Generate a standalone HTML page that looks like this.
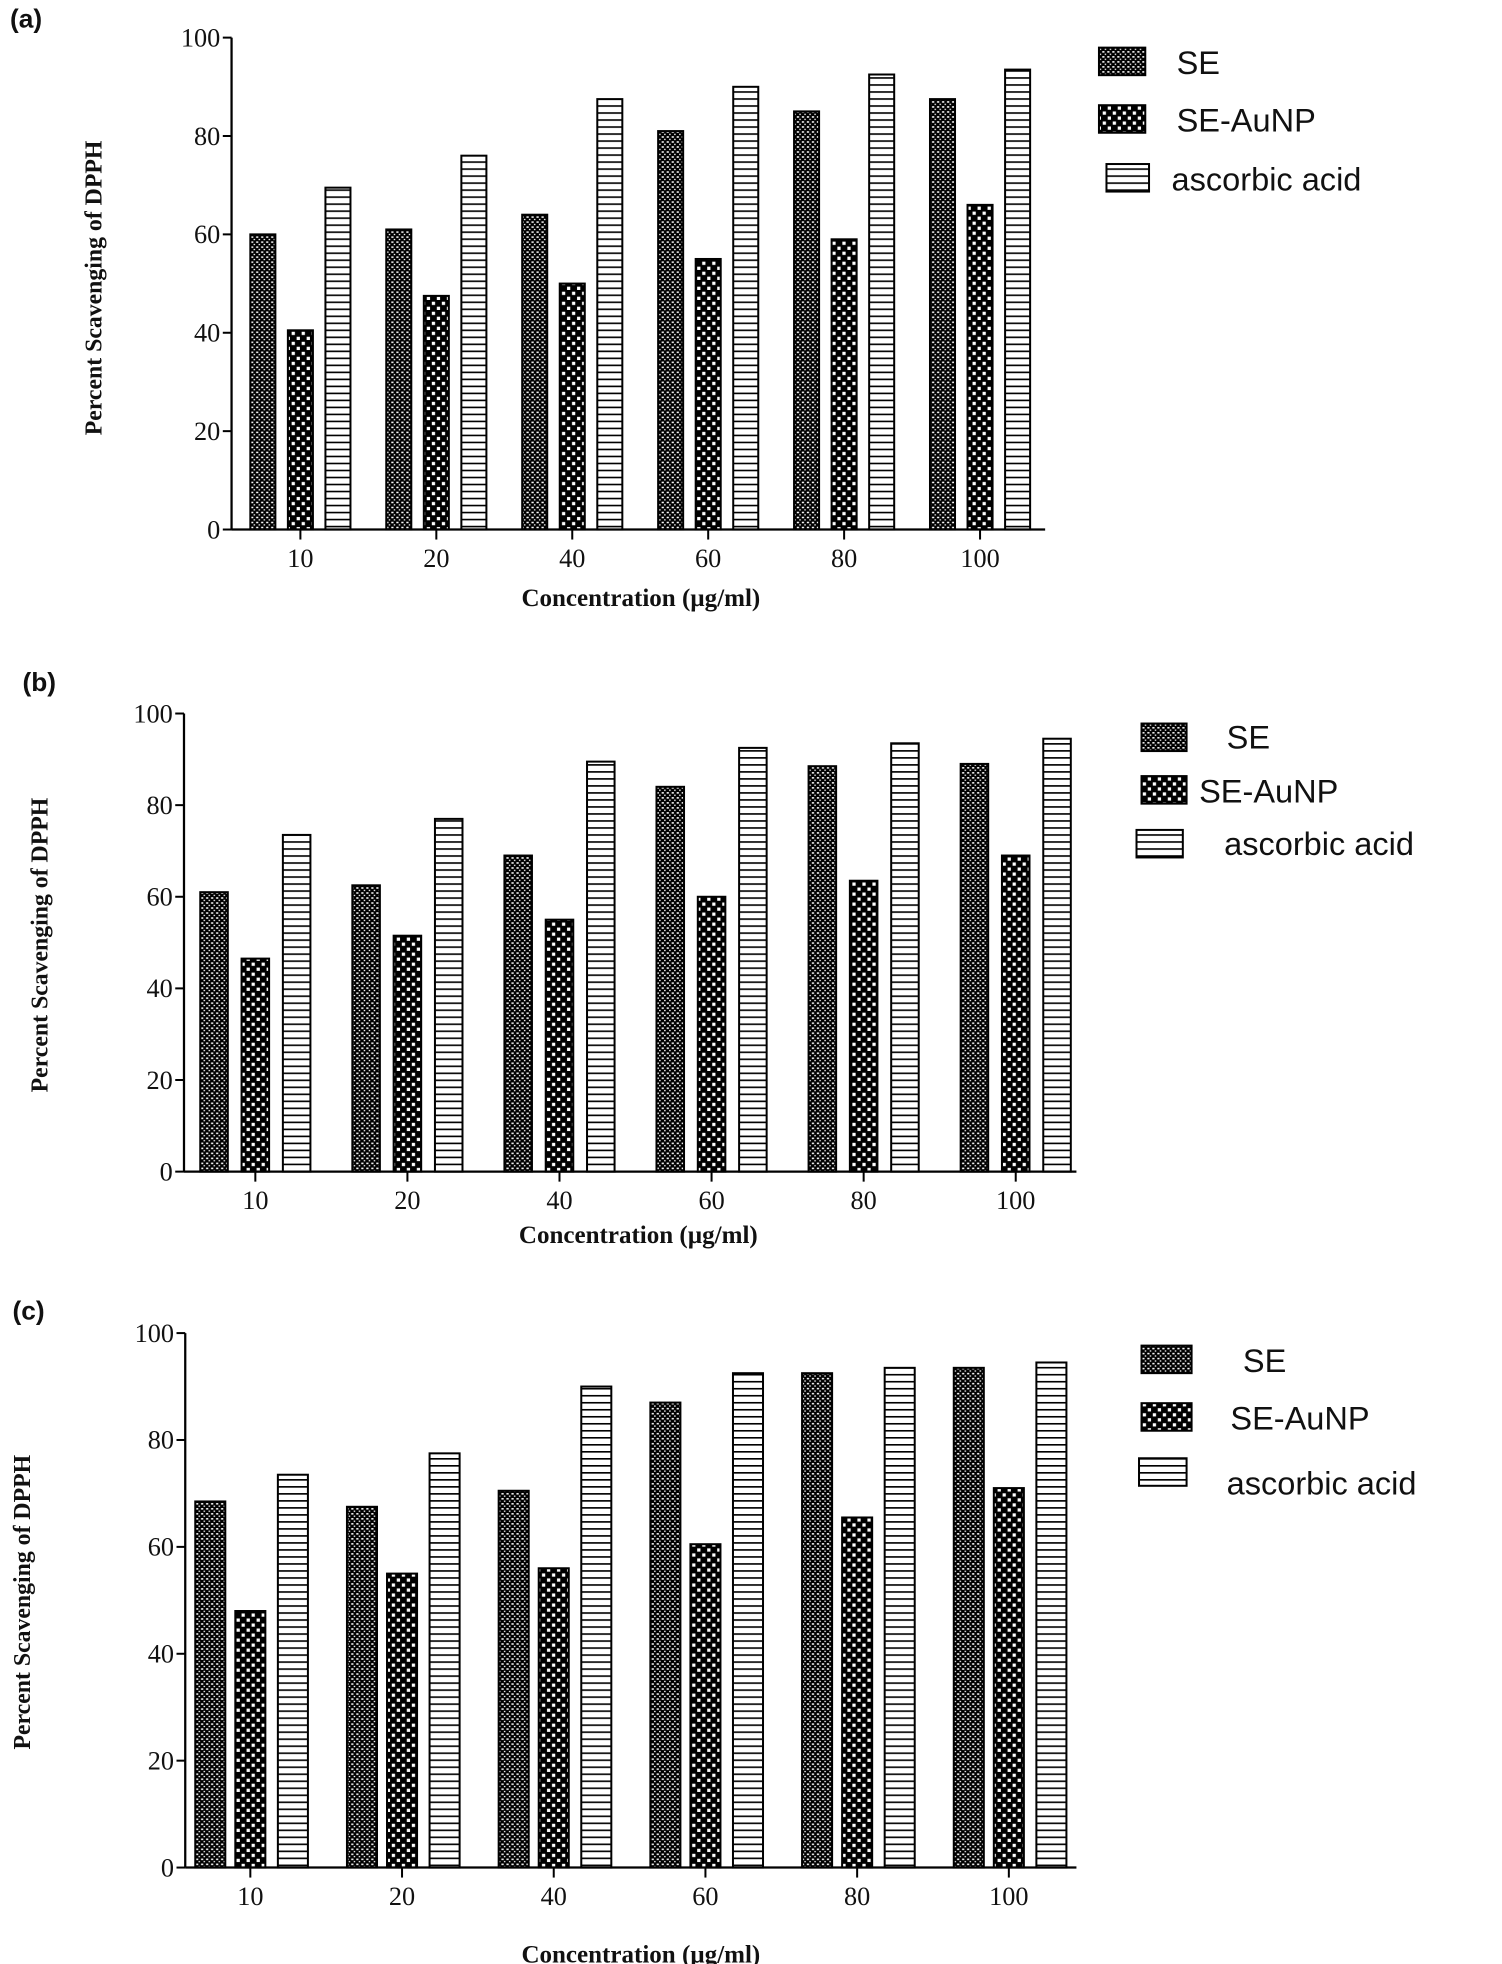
<!DOCTYPE html>
<html><head><meta charset="utf-8"><style>
html,body{margin:0;padding:0;background:#fff}
svg{display:block}
.t{font-family:"Liberation Serif",serif;font-size:21px;fill:#111}
.b{font-family:"Liberation Serif",serif;font-weight:bold;fill:#111}
.s{font-family:"Liberation Sans",sans-serif;fill:#111}
</style></head><body>
<svg id="s" width="1502" height="1964" viewBox="0 0 1200 1569" xmlns="http://www.w3.org/2000/svg">
<defs>
<pattern id="pSE" width="4" height="4" patternUnits="userSpaceOnUse"><rect width="4" height="4" fill="#000"/><rect x="0.6" y="0.8" width="1.8" height="1.2" fill="#fff"/><rect x="2.6" y="2.8" width="1.2" height="1" fill="#fff"/></pattern>
<pattern id="pAu" width="8" height="8" patternUnits="userSpaceOnUse"><rect width="8" height="8" fill="#000"/><rect x="1" y="1" width="2.6" height="2.6" fill="#fff"/><rect x="5" y="5" width="2.6" height="2.6" fill="#fff"/></pattern>
<pattern id="pAA" width="6" height="5.6" patternUnits="userSpaceOnUse"><rect width="6" height="5.6" fill="#fff"/><rect y="0" width="6" height="1.3" fill="#000"/></pattern>
</defs>
<g id="g"></g>
</svg>
<script>
var P=[
{lab:"(a)",lx:8,ly:22,ax:185,y100:30,y0:423,xe:835,g0:200,gs:108.6,w:20,off:[0,30,60],
 v:[[60,61,64,81,85,87.5],[40.5,47.5,50,55,59,66],[69.5,76,87.5,90,92.5,93.5]],
 yl:75,ylc:230,xlc:512,xly:484,
 leg:[[878,38,37,22,940,59,"SE"],[878,84,37,22,940,105,"SE-AuNP"],[884,131,34,22,936,152,"ascorbic acid"]]},
{lab:"(b)",lx:18,ly:552,ax:147,y100:570,y0:936,xe:860,g0:160,gs:121.5,w:22,off:[0,33,66],
 v:[[61,62.5,69,84,88.5,89],[46.5,51.5,55,60,63.5,69],[73.5,77,89.5,92.5,93.5,94.5]],
 yl:32,ylc:755,xlc:510,xly:993,
 leg:[[912,578,36,22,980,598,"SE"],[912,620,36,22,958,641,"SE-AuNP"],[908,663,37,22,978,683,"ascorbic acid"]]},
{lab:"(c)",lx:10,ly:1054,ax:148,y100:1065,y0:1492,xe:860,g0:156,gs:121.2,w:24,off:[0,32,66],
 v:[[68.5,67.5,70.5,87,92.5,93.5],[48,55,56,60.5,65.5,71],[73.5,77.5,90,92.5,93.5,94.5]],
 yl:18,ylc:1280,xlc:512,xly:1568,
 leg:[[912,1075,40,22,993,1096,"SE"],[912,1121,40,22,983,1142,"SE-AuNP"],[910,1165,38,22,980,1194,"ascorbic acid"]]}
];
var pat=["pSE","pAu","pAA"],xs=["10","20","40","60","80","100"],h="";
P.forEach(function(p){
 var k=(p.y0-p.y100)/100;
 h+='<text class="s" x="'+p.lx+'" y="'+p.ly+'" font-size="21" font-weight="bold">'+p.lab+'</text>';
 for(var i=0;i<6;i++){var gx=p.g0+i*p.gs;
  for(var s=0;s<3;s++){var x=gx+p.off[s],y=p.y0-p.v[s][i]*k;
   h+='<rect x="'+x+'" y="'+y+'" width="'+p.w+'" height="'+(p.y0-y)+'" fill="url(#'+pat[s]+')" stroke="#000" stroke-width="1.6"/>';}
  var cx=gx+p.off[1]+p.w/2;
  h+='<line x1="'+cx+'" y1="'+p.y0+'" x2="'+cx+'" y2="'+(p.y0+8)+'" stroke="#000" stroke-width="1.6"/>';
  h+='<text class="t" x="'+cx+'" y="'+(p.y0+30)+'" text-anchor="middle">'+xs[i]+'</text>';}
 h+='<line x1="'+p.ax+'" y1="'+p.y100+'" x2="'+p.ax+'" y2="'+p.y0+'" stroke="#000" stroke-width="1.8"/>';
 h+='<line x1="'+p.ax+'" y1="'+p.y0+'" x2="'+p.xe+'" y2="'+p.y0+'" stroke="#000" stroke-width="1.8"/>';
 for(var t=0;t<=100;t+=20){var y=p.y0-t*k;
  h+='<line x1="'+(p.ax-7)+'" y1="'+y+'" x2="'+p.ax+'" y2="'+y+'" stroke="#000" stroke-width="1.6"/>';
  h+='<text class="t" x="'+(p.ax-9)+'" y="'+(y+7)+'" text-anchor="end">'+t+'</text>';}
 h+='<text class="b" font-size="19" transform="translate('+(p.yl+6)+','+p.ylc+') rotate(-90)" text-anchor="middle">Percent Scavenging of DPPH</text>';
 h+='<text class="b" font-size="20" x="'+p.xlc+'" y="'+p.xly+'" text-anchor="middle">Concentration (µg/ml)</text>';
 p.leg.forEach(function(l,j){
  h+='<rect x="'+l[0]+'" y="'+l[1]+'" width="'+l[2]+'" height="'+l[3]+'" fill="url(#'+pat[j]+')" stroke="#000" stroke-width="1.6"/>';
  h+='<text class="s" font-size="26" x="'+l[4]+'" y="'+l[5]+'">'+l[6]+'</text>';});
});
document.getElementById("g").innerHTML=h;
</script>
</body></html>
